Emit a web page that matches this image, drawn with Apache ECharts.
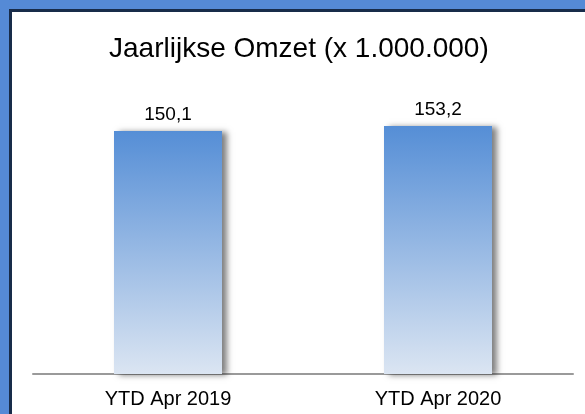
<!DOCTYPE html>
<html>
<head>
<meta charset="utf-8">
<script src="https://cdn.jsdelivr.net/npm/echarts@6/dist/echarts.min.js"></script>
<style>
  html, body { margin: 0; padding: 0; background: #fff; }
  .frame { position: relative; width: 585px; height: 414px; overflow: hidden; }
  #chart { position: absolute; left: 0; top: 0; width: 585px; height: 414px; }
  .blue-l { position: absolute; left: 0; top: 0; width: 9px; height: 414px; background: #558ad6; }
  .blue-t { position: absolute; left: 0; top: 0; width: 585px; height: 9px; background: #558ad6; }
  .navy-l { position: absolute; left: 9px; top: 9px; width: 3px; height: 405px; background: #182c4a; }
  .navy-t { position: absolute; left: 9px; top: 9px; width: 576px; height: 3px; background: #182c4a; }
</style>
</head>
<body>
<div class="frame">
  <div id="chart"></div>
  <div class="blue-l"></div>
  <div class="blue-t"></div>
  <div class="navy-l"></div>
  <div class="navy-t"></div>
</div>
<script>
  // data
  const titleText = 'Jaarlijkse Omzet (x 1.000.000)';
  const categories = ['YTD Apr 2019', 'YTD Apr 2020'];
  const omzet = [150.1, 153.2];

  const myChart = echarts.init(document.getElementById('chart'));
  const option = {
    animation: false,
    textStyle: { fontFamily: 'Liberation Sans, Arial, sans-serif' },
    title: {
      text: titleText,
      left: 109,
      top: 35,
      padding: 0,
      textStyle: { fontSize: 28, fontWeight: 'normal', color: '#000' }
    },
    grid: { left: 33, right: 12, top: 115, bottom: 40 },
    xAxis: {
      type: 'category',
      data: categories,
      axisLine: { lineStyle: { color: '#9a9a9a', width: 2 } },
      axisTick: { show: false },
      axisLabel: { color: '#000', fontSize: 20, margin: 15 }
    },
    yAxis: {
      type: 'value',
      min: 0,
      max: 160,
      show: false
    },
    series: [{
      type: 'bar',
      data: omzet,
      barWidth: '40%',
      itemStyle: {
        color: new echarts.graphic.LinearGradient(0, 0, 0, 1, [
          { offset: 0, color: '#558ed6' },
          { offset: 1, color: '#dbe5f2' }
        ]),
        shadowColor: 'rgba(0,0,0,0.5)',
        shadowBlur: 6,
        shadowOffsetX: 5,
        shadowOffsetY: 1
      },
      label: {
        show: true,
        position: 'top',
        distance: 7,
        color: '#000',
        fontSize: 19,
        formatter: p => String(p.value).replace('.', ',')
      }
    }]
  };
  myChart.setOption(option);
</script>
</body>
</html>
